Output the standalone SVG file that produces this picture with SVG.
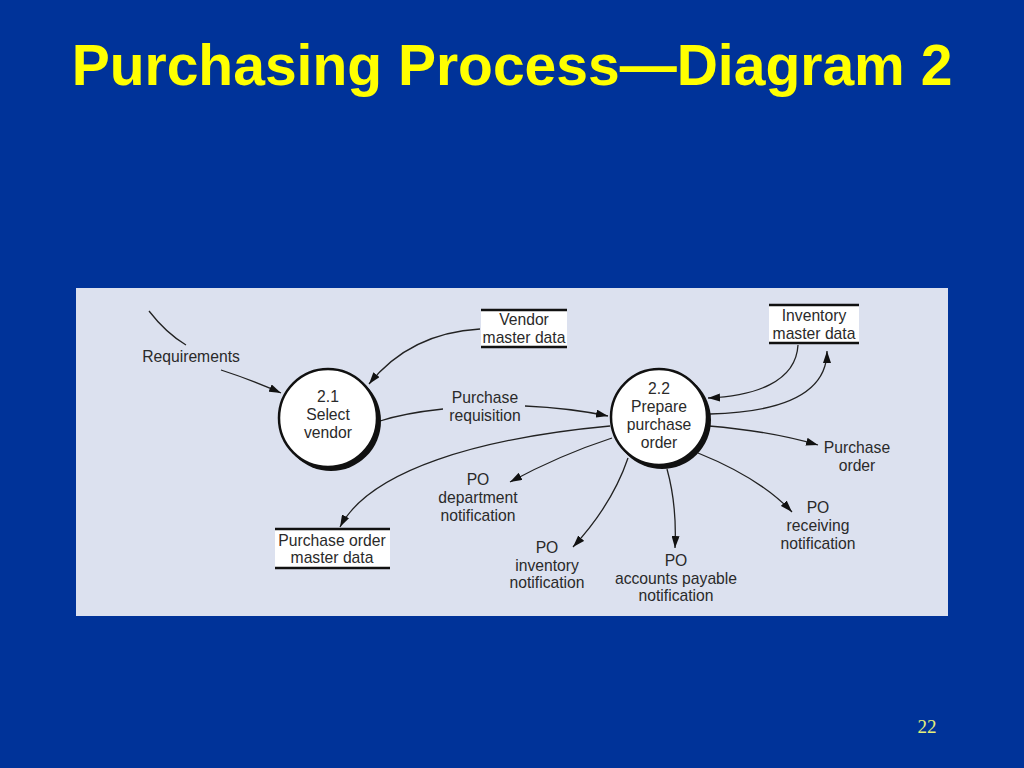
<svg xmlns="http://www.w3.org/2000/svg" width="1024" height="768" viewBox="0 0 1024 768">
<defs>
<style>
.t{font-family:"Liberation Sans",Arial,sans-serif;font-size:15.7px;fill:#2a2a2a;text-anchor:middle}
.c{fill:none;stroke:#222;stroke-width:1.3}
.store{fill:#fff}
.bar{stroke:#111;stroke-width:2.5}
.proc{fill:#fff;stroke:#111;stroke-width:2.5}
.shadow{fill:#111}
</style>
<marker id="ah" viewBox="0 0 12 8" refX="12" refY="4" markerWidth="12" markerHeight="8" markerUnits="userSpaceOnUse" orient="auto">
<path d="M0,0 L12,4 L0,8 z" fill="#111"/>
</marker>
</defs>
<rect width="1024" height="768" fill="#003399"/>
<text x="512" y="85" font-family="Liberation Sans,Arial,sans-serif" font-weight="bold" font-size="57" fill="#ffff00" text-anchor="middle">Purchasing Process—Diagram 2</text>
<rect x="76" y="288" width="872" height="328" fill="#dce1ef"/>

<g id="connectors">
<path class="c" d="M149,311 Q166,333 186,345"/>
<path class="c" d="M221,370 Q252,380 281,393" marker-end="url(#ah)"/>
<path class="c" d="M480,329 Q410,333 369,384" marker-end="url(#ah)"/>
<path class="c" d="M380,421 Q405,413 443,409"/>
<path class="c" d="M525,406 Q570,408 608,416" marker-end="url(#ah)"/>
<path class="c" d="M798,345 C796,382 755,396 708,398" marker-end="url(#ah)"/>
<path class="c" d="M710,414 C785,412 827,392 827,351" marker-end="url(#ah)"/>
<path class="c" d="M709,426 Q770,431 818,445" marker-end="url(#ah)"/>
<path class="c" d="M610,426 C480,438 370,470 340,527" marker-end="url(#ah)"/>
<path class="c" d="M612,438 Q560,455 510,482" marker-end="url(#ah)"/>
<path class="c" d="M628,458 Q612,505 573,547" marker-end="url(#ah)"/>
<path class="c" d="M667,469 Q677,505 675,548" marker-end="url(#ah)"/>
<path class="c" d="M698,453 Q760,478 792,512" marker-end="url(#ah)"/>
</g>

<g id="p21">
<circle class="shadow" cx="331" cy="421" r="50"/>
<circle class="proc" cx="328" cy="418" r="49"/>
<text class="t" x="328" y="402">2.1</text>
<text class="t" x="328" y="420">Select</text>
<text class="t" x="328" y="438">vendor</text>
</g>

<g id="p22">
<circle class="shadow" cx="662" cy="420" r="49"/>
<circle class="proc" cx="659" cy="417" r="48"/>
<text class="t" x="659" y="394">2.2</text>
<text class="t" x="659" y="412">Prepare</text>
<text class="t" x="659" y="430">purchase</text>
<text class="t" x="659" y="448">order</text>
</g>

<g id="vendorStore">
<rect class="store" x="481" y="310" width="86" height="37"/>
<line class="bar" x1="481" y1="310" x2="567" y2="310"/>
<line class="bar" x1="481" y1="347" x2="567" y2="347"/>
<text class="t" x="524" y="325">Vendor</text>
<text class="t" x="524" y="343">master data</text>
</g>

<g id="invStore">
<rect class="store" x="769" y="305" width="90" height="38"/>
<line class="bar" x1="769" y1="305" x2="859" y2="305"/>
<line class="bar" x1="769" y1="343" x2="859" y2="343"/>
<text class="t" x="814" y="321">Inventory</text>
<text class="t" x="814" y="339">master data</text>
</g>

<g id="poStore">
<rect class="store" x="275" y="529" width="115" height="39"/>
<line class="bar" x1="275" y1="529" x2="390" y2="529"/>
<line class="bar" x1="275" y1="568" x2="390" y2="568"/>
<text class="t" x="332" y="546">Purchase order</text>
<text class="t" x="332" y="563">master data</text>
</g>

<g id="labels">
<text class="t" x="191" y="362">Requirements</text>
<text class="t" x="485" y="403">Purchase</text>
<text class="t" x="485" y="421">requisition</text>
<text class="t" x="857" y="453">Purchase</text>
<text class="t" x="857" y="471">order</text>
<text class="t" x="478" y="485">PO</text>
<text class="t" x="478" y="503">department</text>
<text class="t" x="478" y="521">notification</text>
<text class="t" x="547" y="553">PO</text>
<text class="t" x="547" y="571">inventory</text>
<text class="t" x="547" y="588">notification</text>
<text class="t" x="676" y="566">PO</text>
<text class="t" x="676" y="584">accounts payable</text>
<text class="t" x="676" y="601">notification</text>
<text class="t" x="818" y="513">PO</text>
<text class="t" x="818" y="531">receiving</text>
<text class="t" x="818" y="549">notification</text>
</g>
<text x="927" y="733" font-family="Liberation Serif,serif" font-size="19" fill="#e6f07a" text-anchor="middle">22</text>
</svg>
